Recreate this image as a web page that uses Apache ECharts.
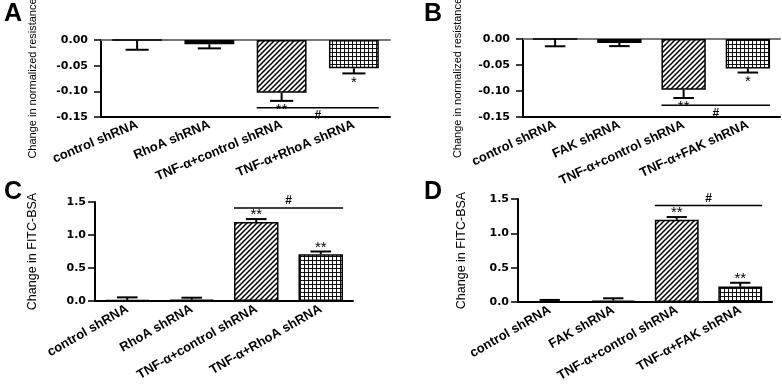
<!DOCTYPE html>
<html>
<head>
<meta charset="utf-8">
<script src="https://cdn.jsdelivr.net/npm/echarts@6/dist/echarts.min.js"></script>
<style>
  html, body { margin: 0; padding: 0; background: #fff; }
  #chart { width: 782px; height: 388px; }
</style>
</head>
<body>
<div id="chart"></div>
<script>
  /** Data */
  var catsRhoA = ['control shRNA', 'RhoA shRNA', 'TNF-\u03b1+control shRNA', 'TNF-\u03b1+RhoA shRNA'];
  var catsFAK = ['control shRNA', 'FAK shRNA', 'TNF-\u03b1+control shRNA', 'TNF-\u03b1+FAK shRNA'];

  var resistA = [0, -0.0083, -0.1026, -0.0551];
  var resistAErr = [0.019, 0.008, 0.016, 0.010];
  var resistB = [0, -0.0077, -0.0975, -0.0565];
  var resistBErr = [0.014, 0.006, 0.016, 0.008];
  var fitcC = [0.015, 0.02, 1.196, 0.71];
  var fitcCErr = [0.04, 0.03, 0.045, 0.04];
  var fitcD = [0.01, 0.02, 1.197, 0.224];
  var fitcDErr = [0.02, 0.034, 0.04, 0.056];

  var starsA = ['', '', '**', '*'];
  var starsB = ['', '', '**', '*'];
  var starsC = ['', '', '**', '**'];
  var starsD = ['', '', '**', '**'];

  // "#" bracket between group 3 and 4, value level per panel A-D
  var hashLevel = [-0.132, -0.1275, 1.41, 1.405];

  var resistTicks = [-0.15, 0, 0.05];   // min, max, step
  var fitcTicks = [0, 1.5, 0.5];

  /** Fills */
  function hatch() {
    var c = document.createElement('canvas');
    c.width = 5; c.height = 5;
    var g = c.getContext('2d');
    g.fillStyle = '#fff'; g.fillRect(0, 0, 5, 5);
    g.strokeStyle = '#000'; g.lineWidth = 1.5;
    g.beginPath();
    g.moveTo(-1, 6); g.lineTo(6, -1);
    g.moveTo(-1, 1); g.lineTo(1, -1);
    g.moveTo(4, 6); g.lineTo(6, 4);
    g.stroke();
    return {image: c, repeat: 'repeat'};
  }
  function gridFill() {
    var c = document.createElement('canvas');
    c.width = 4; c.height = 4;
    var g = c.getContext('2d');
    g.fillStyle = '#fff'; g.fillRect(0, 0, 4, 4);
    g.fillStyle = '#111';
    g.fillRect(0, 0, 1, 4);
    g.fillRect(0, 0, 4, 1);
    return {image: c, repeat: 'repeat'};
  }
  var fills = ['#fff', '#000', hatch(), gridFill()];

  var labelFont = "'Liberation Sans', Arial, sans-serif";
  var tickFont = "'DejaVu Sans', sans-serif";

  var option = {
    animation: false,
    backgroundColor: '#fff',
    title: [],
    grid: [],
    xAxis: [],
    yAxis: [],
    series: []
  };

  ['A', 'B', 'C', 'D'].forEach(function(t, i) {
    option.title.push({
      text: t,
      left: [4, 424, 4, 424][i],
      top: [2, 2, 180, 180][i],
      padding: 0,
      textStyle: {fontSize: 25, fontWeight: 'bold', color: '#000', fontFamily: labelFont}
    });
  });

  function addPanel(p) {
    var gi = option.grid.length;
    option.grid.push({left: p.box[0], top: p.box[1], width: p.box[2], height: p.box[3], outerBoundsMode: 'none'});

    var xi = option.xAxis.length;
    option.xAxis.push({
      type: 'category', gridIndex: gi, data: p.cats, position: 'bottom',
      axisLine: {onZero: false, lineStyle: {color: '#000', width: 2}},
      axisTick: {alignWithLabel: true, length: 4, lineStyle: {color: '#000', width: 1.5}},
      axisLabel: {
        interval: 0, rotate: p.rotate, margin: 7, color: '#000',
        fontWeight: 'bold', fontSize: 13, fontFamily: labelFont
      }
    });
    if (p.zeroLine) {
      option.xAxis.push({
        type: 'category', gridIndex: gi, data: p.cats, position: 'top',
        axisLine: {lineStyle: {color: '#777', width: 2}},
        axisTick: {show: false}, axisLabel: {show: false}
      });
    }

    var yi = option.yAxis.length;
    option.yAxis.push({
      type: 'value', gridIndex: gi,
      min: p.ticks[0], max: p.ticks[1], interval: p.ticks[2],
      splitLine: {show: false},
      axisLine: {show: true, lineStyle: {color: '#000', width: 2}},
      axisTick: {show: true, length: 7, lineStyle: {color: '#000', width: 1.5}},
      axisLabel: {
        margin: p.labelMargin, color: '#000', fontWeight: 'bold', fontSize: 11, fontFamily: tickFont,
        formatter: function(v) { return v.toFixed(p.decimals); }
      },
      name: p.yName, nameLocation: 'middle', nameGap: p.nameGap,
      nameTextStyle: {color: '#000', fontSize: p.nameSize, fontFamily: labelFont}
    });

    option.series.push({
      type: 'bar', xAxisIndex: xi, yAxisIndex: yi,
      barWidth: '69%',
      data: p.means.map(function(v, i) {
        return {value: v, itemStyle: {color: fills[i]}};
      }),
      itemStyle: {borderColor: '#000', borderWidth: 1.5},
      z: 2
    });

    // error bars (one sided, away from zero) + significance stars
    option.series.push({
      type: 'custom', xAxisIndex: xi, yAxisIndex: yi,
      data: p.means.map(function(m, i) { return [i, m, m + p.dir * p.errs[i]]; }),
      renderItem: function(params, api) {
        var a = api.coord([api.value(0), api.value(1)]);
        var b = api.coord([api.value(0), api.value(2)]);
        var half = api.size([1, 0])[0] * 0.16;
        var kids = [
          {type: 'line', shape: {x1: a[0], y1: a[1], x2: b[0], y2: b[1]}, style: {stroke: '#000', lineWidth: 2}},
          {type: 'line', shape: {x1: b[0] - half, y1: b[1], x2: b[0] + half, y2: b[1]}, style: {stroke: '#000', lineWidth: 2}}
        ];
        var s = p.stars[params.dataIndex];
        if (s) {
          kids.push({
            type: 'text', x: b[0], y: b[1] + (p.dir < 0 ? 9 : -4),
            style: {text: s, fill: '#000', fontSize: 15, fontFamily: labelFont, align: 'center', verticalAlign: 'middle'}
          });
        }
        return {type: 'group', children: kids};
      },
      z: 3
    });

    // "#" bracket
    option.series.push({
      type: 'custom', xAxisIndex: xi, yAxisIndex: yi,
      data: [[2, 3, p.hash]],
      renderItem: function(params, api) {
        var a = api.coord([api.value(0), api.value(2)]);
        var b = api.coord([api.value(1), api.value(2)]);
        var half = api.size([1, 0])[0] * 0.345;
        return {type: 'group', children: [
          {type: 'line', shape: {x1: a[0] - half, y1: a[1], x2: b[0] + half, y2: a[1]}, style: {stroke: '#000', lineWidth: 1.5}},
          {type: 'text', x: (a[0] + b[0]) / 2, y: a[1] + (p.dir < 0 ? 2 : -1),
            style: {text: '#', fill: '#000', fontSize: 12, fontWeight: 'bold', fontFamily: labelFont,
              align: 'center', verticalAlign: p.dir < 0 ? 'top' : 'bottom'}}
        ]};
      },
      z: 4
    });
  }

  addPanel({box: [101, 40, 289, 77], cats: catsRhoA, means: resistA, errs: resistAErr, stars: starsA,
    hash: hashLevel[0], dir: -1, ticks: resistTicks, decimals: 2, zeroLine: true, rotate: 23,
    yName: 'Change in normalized resistance', nameGap: 63, nameSize: 11, labelMargin: 13});
  addPanel({box: [523, 39, 257, 78], cats: catsFAK, means: resistB, errs: resistBErr, stars: starsB,
    hash: hashLevel[1], dir: -1, ticks: resistTicks, decimals: 2, zeroLine: true, rotate: 25,
    yName: 'Change in normalized resistance', nameGap: 60, nameSize: 11, labelMargin: 13});
  addPanel({box: [95, 202, 258, 99], cats: catsRhoA, means: fitcC, errs: fitcCErr, stars: starsC,
    hash: hashLevel[2], dir: 1, ticks: fitcTicks, decimals: 1, zeroLine: false, rotate: 30,
    yName: 'Change in FITC-BSA', nameGap: 56, nameSize: 12.5, labelMargin: 9});
  addPanel({box: [518, 199, 254, 103], cats: catsFAK, means: fitcD, errs: fitcDErr, stars: starsD,
    hash: hashLevel[3], dir: 1, ticks: fitcTicks, decimals: 1, zeroLine: false, rotate: 30,
    yName: 'Change in FITC-BSA', nameGap: 50, nameSize: 12.5, labelMargin: 9});

  echarts.init(document.getElementById('chart'), null, {renderer: 'canvas'}).setOption(option);
</script>
</body>
</html>
